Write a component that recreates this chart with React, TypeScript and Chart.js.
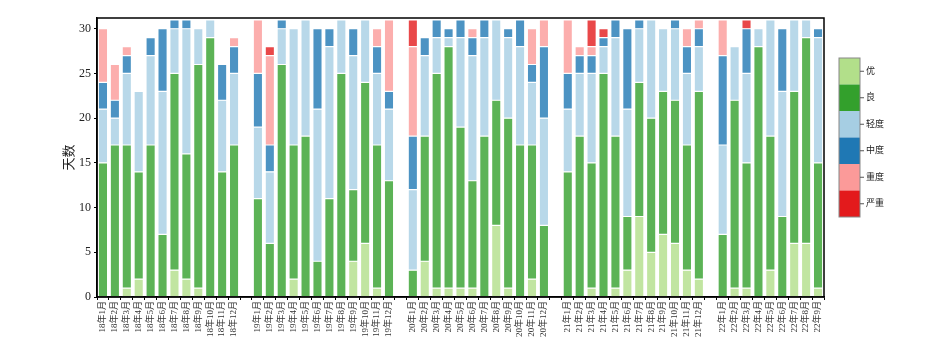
import React, { useEffect, useRef } from "react";
import { Chart, registerables } from "chart.js";

Chart.register(...registerables);

const labels: string[] = [
  "18年1月","18年2月","18年3月","18年4月","18年5月","18年6月","18年7月","18年8月","18年9月","18年10月","18年11月","18年12月","",
  "19年1月","19年2月","19年3月","19年4月","19年5月","19年6月","19年7月","19年8月","19年9月","19年10月","19年11月","19年12月","",
  "20年1月","20年2月","20年3月","20年4月","20年5月","20年6月","20年7月","20年8月","20年9月","20年10月","20年11月","20年12月","",
  "21年1月","21年2月","21年3月","21年4月","21年5月","21年6月","21年7月","21年8月","21年9月","21年10月","21年11月","21年12月","",
  "22年1月","22年2月","22年3月","22年4月","22年5月","22年6月","22年7月","22年8月","22年9月",
];

const seriesNames = ["优", "良", "轻度", "中度", "重度", "严重"];

const you = [
  0,0,1,2,0,0,3,2,1,0,0,0,null,
  0,0,0,2,0,0,0,0,4,6,1,0,null,
  0,4,1,1,1,1,0,8,1,0,2,0,null,
  0,0,1,0,1,3,9,5,7,6,3,2,null,
  0,1,1,0,3,0,6,6,1,
];
const liang = [
  15,17,16,12,17,7,22,14,25,29,14,17,null,
  11,6,26,15,18,4,11,25,8,18,16,13,null,
  3,14,24,27,18,12,18,14,19,17,15,8,null,
  14,18,14,25,17,6,15,15,16,16,14,21,null,
  7,21,14,28,15,9,17,23,14,
];
const qingdu = [
  6,3,8,9,10,16,5,14,4,2,8,8,null,
  8,8,4,13,13,17,17,6,15,7,8,8,null,
  9,9,4,1,10,14,11,9,9,11,7,12,null,
  7,7,10,3,11,12,6,11,7,8,8,5,null,
  10,6,10,2,13,14,8,2,14,
];
const zhongdu = [
  3,2,2,0,2,7,1,1,0,0,4,3,null,
  6,3,1,0,0,9,2,0,3,0,3,2,null,
  6,2,2,1,2,2,2,0,1,3,2,8,null,
  4,2,2,1,2,9,1,0,0,1,3,2,null,
  10,0,5,0,0,7,0,0,1,
];
const zhongdu2 = [
  6,4,1,0,0,0,0,0,0,0,0,1,null,
  6,10,0,0,0,0,0,0,0,0,2,8,null,
  10,0,0,0,0,1,0,0,0,0,4,3,null,
  6,1,1,0,0,0,0,0,0,0,2,1,null,
  4,0,0,0,0,0,0,0,0,
];
const yanzhong = [
  0,0,0,0,0,0,0,0,0,0,0,0,null,
  0,1,0,0,0,0,0,0,0,0,0,0,null,
  3,0,0,0,0,0,0,0,0,0,0,0,null,
  0,0,3,1,0,0,0,0,0,0,0,0,null,
  0,0,1,0,0,0,0,0,0,
];

const yTicks = [0, 5, 10, 15, 20, 25, 30];

const baseColors = ["#b2df8a", "#33a02c", "#a6cee3", "#1f78b4", "#fb9a99", "#e31a1c"];
const barColors = [
  "rgba(178,223,138,0.8)",
  "rgba(51,160,44,0.8)",
  "rgba(166,206,227,0.8)",
  "rgba(31,120,180,0.8)",
  "rgba(251,154,153,0.8)",
  "rgba(227,26,28,0.8)",
];

const FONT = "'Liberation Serif', 'Noto Sans CJK SC', serif";

const framePlugin = {
  id: "frame",
  afterDraw(chart: any) {
    const { ctx, chartArea } = chart;
    ctx.save();
    ctx.strokeStyle = "#000";
    ctx.lineWidth = 1.5;
    ctx.strokeRect(chartArea.left, chartArea.top, chartArea.right - chartArea.left, chartArea.bottom - chartArea.top);
    // legend (colorbar style)
    const x = 839, y0 = 58, w = 21, h = 159;
    const bh = h / seriesNames.length;
    seriesNames.forEach((name, i) => {
      ctx.fillStyle = baseColors[i];
      ctx.fillRect(x, y0 + i * bh, w, bh);
    });
    ctx.strokeStyle = "#888";
    ctx.lineWidth = 1;
    ctx.strokeRect(x, y0, w, h);
    ctx.strokeStyle = "#555";
    ctx.fillStyle = "#222";
    ctx.font = `9px ${FONT}`;
    ctx.textBaseline = "middle";
    ctx.textAlign = "left";
    seriesNames.forEach((name, i) => {
      const cy = y0 + (i + 0.5) * bh;
      ctx.beginPath();
      ctx.moveTo(x + w, cy);
      ctx.lineTo(x + w + 4, cy);
      ctx.stroke();
      ctx.fillText(name, x + w + 6, cy);
    });
    ctx.restore();
  },
};

export default function App() {
  const ref = useRef<HTMLCanvasElement | null>(null);
  useEffect(() => {
    if (!ref.current) return;
    const series = [you, liang, qingdu, zhongdu, zhongdu2, yanzhong];
    const chart = new Chart(ref.current, {
      type: "bar",
      data: {
        labels,
        datasets: series.map((d, i) => ({
          label: seriesNames[i],
          data: d,
          backgroundColor: barColors[i],
          borderColor: "#ffffff",
          borderWidth: 0.6,
          borderSkipped: false,
          barPercentage: 0.78,
          categoryPercentage: 1,
        })),
      },
      options: {
        responsive: false,
        animation: false,
        devicePixelRatio: 1,
        layout: { padding: { left: 62, top: 18, right: 112, bottom: 0 } },
        plugins: { legend: { display: false }, tooltip: { enabled: false } },
        scales: {
          x: {
            stacked: true,
            offset: true,
            afterFit: (s: any) => { s.height = 59; },
            grid: { display: true, drawOnChartArea: false, drawTicks: true, tickLength: 3, tickColor: "#000" },
            border: { display: true, color: "#000", width: 1.5 },
            ticks: {
              autoSkip: false,
              maxRotation: 90,
              minRotation: 90,
              padding: 1,
              color: "#333",
              font: { family: FONT, size: 9 },
            },
          },
          y: {
            stacked: true,
            min: 0,
            max: 31.2,
            afterFit: (s: any) => { s.width = 35; },
            afterBuildTicks: (s: any) => { s.ticks = yTicks.map((v) => ({ value: v })); },
            grid: { display: true, drawOnChartArea: false, drawTicks: true, tickLength: 3, tickColor: "#000" },
            border: { display: true, color: "#000", width: 1.5 },
            ticks: {
              stepSize: 5,
              padding: 3,
              color: "#222",
              font: { family: FONT, size: 12 },
            },
            title: {
              display: true,
              text: "天数",
              color: "#222",
              padding: { top: 0, bottom: 0 },
              font: { family: FONT, size: 13 },
            },
          },
        },
      },
      plugins: [framePlugin],
    });
    return () => chart.destroy();
  }, []);
  return (
    <div style={{ position: "absolute", left: 0, top: 0, width: 936, height: 356, background: "#fff" }}>
      <canvas ref={ref} width={936} height={356} />
    </div>
  );
}
